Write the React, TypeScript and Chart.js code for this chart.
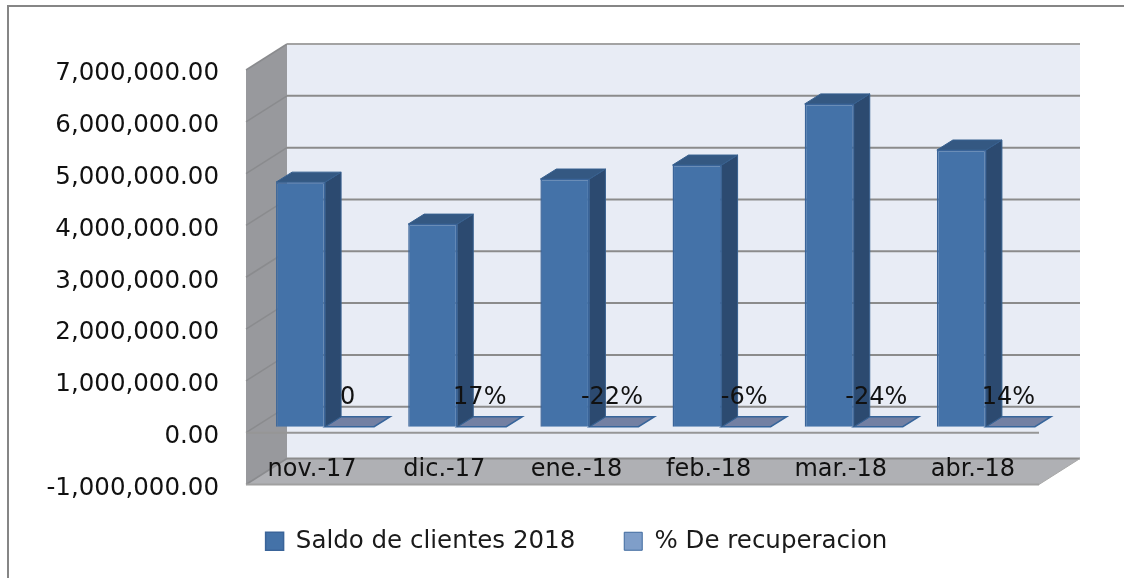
import React, { useEffect, useRef } from "react";
import { Chart, registerables } from "chart.js";

Chart.register(...registerables);

const categories = ["nov.-17", "dic.-17", "ene.-18", "feb.-18", "mar.-18", "abr.-18"];
const saldo = [4720000, 3910000, 4780000, 5050000, 6230000, 5340000];
const recuperacion = [0, 0.17, -0.22, -0.06, -0.24, 0.14];
const recuperacionLabels = ["0", "17%", "-22%", "-6%", "-24%", "14%"];
const seriesNames = ["Saldo de clientes 2018", "% De recuperacion"];

const FONT = "'DejaVu Sans'";
const DEPTH_X = 41;
const DEPTH_Y = -26;
const BAR_SHIFT_X = 13;
const BAR_SHIFT_Y = -6;
const BAR_DEPTH_X = 16;
const BAR_DEPTH_Y = -10;

function poly(ctx: CanvasRenderingContext2D, pts: number[][], fill: string, stroke?: string, lw = 1) {
  ctx.beginPath();
  pts.forEach((p, i) => (i ? ctx.lineTo(p[0], p[1]) : ctx.moveTo(p[0], p[1])));
  ctx.closePath();
  ctx.fillStyle = fill;
  ctx.fill();
  if (stroke) {
    ctx.strokeStyle = stroke;
    ctx.lineWidth = lw;
    ctx.stroke();
  }
}

function line(ctx: CanvasRenderingContext2D, x1: number, y1: number, x2: number, y2: number, c: string, w: number) {
  ctx.beginPath();
  ctx.moveTo(x1, y1);
  ctx.lineTo(x2, y2);
  ctx.strokeStyle = c;
  ctx.lineWidth = w;
  ctx.stroke();
}

const scene3d = {
  id: "scene3d",
  afterLayout(chart: any) {
    const lg = chart.legend;
    if (lg) {
      lg.top = 480;
      lg.bottom = lg.top + lg.height;
      lg.left += 57;
      lg.right += 57;
    }
  },
  beforeDraw(chart: any) {
    const { ctx, scales } = chart;
    const y = scales.y;
    const a = chart.chartArea;
    const L = a.left, R = a.right, T = y.getPixelForValue(7000000), B = y.getPixelForValue(-1000000);
    ctx.save();
    ctx.fillStyle = "#ffffff";
    ctx.fillRect(0, 0, chart.width, chart.height);
    line(ctx, 8, 6, 1124, 6, "#868686", 2);
    line(ctx, 8, 5, 8, 578, "#868686", 2);

    poly(ctx, [[L + DEPTH_X, T + DEPTH_Y], [R + DEPTH_X, T + DEPTH_Y], [R + DEPTH_X, B + DEPTH_Y], [L + DEPTH_X, B + DEPTH_Y]], "#e8ecf5");
    poly(ctx, [[L, T], [L + DEPTH_X, T + DEPTH_Y], [L + DEPTH_X, B + DEPTH_Y], [L, B]], "#98999d");
    poly(ctx, [[L, B], [L + DEPTH_X, B + DEPTH_Y], [R + DEPTH_X, B + DEPTH_Y], [R, B]], "#afb0b4");

    y.ticks.forEach((t: any) => {
      const py = y.getPixelForValue(t.value);
      line(ctx, L, py, L + DEPTH_X, py + DEPTH_Y, "#8a8b8e", 1.5);
      line(ctx, L + DEPTH_X, py + DEPTH_Y, R + DEPTH_X, py + DEPTH_Y, t.value === 7000000 ? "#a3a3a3" : "#8b8b8b", 2);
    });
    const zero = y.getPixelForValue(0);
    line(ctx, L, zero, R, zero, "#969696", 2);
    line(ctx, L, B, R, B, "#a0a0a0", 2);
    line(ctx, R, B, R + DEPTH_X, B + DEPTH_Y, "#a8a8a8", 1);
    ctx.restore();
  },
  beforeDatasetDraw(chart: any, args: any) {
    const { ctx } = chart;
    ctx.save();
    ctx.translate(BAR_SHIFT_X, BAR_SHIFT_Y);
    const meta = chart.getDatasetMeta(args.index);
    meta.data.forEach((bar: any) => {
      const l = bar.x - bar.width / 2;
      const r = bar.x + bar.width / 2;
      const top = Math.min(bar.y, bar.base);
      const base = Math.max(bar.y, bar.base);
      if (args.index === 0) {
        poly(ctx, [[r, top], [r + BAR_DEPTH_X, top + BAR_DEPTH_Y], [r + BAR_DEPTH_X, base + BAR_DEPTH_Y], [r, base]], "#2c4a70", "#37608f", 1);
        poly(ctx, [[l, top], [l + BAR_DEPTH_X, top + BAR_DEPTH_Y], [r + BAR_DEPTH_X, top + BAR_DEPTH_Y], [r, top]], "#345882", "#37608f", 1);
      } else {
        poly(ctx, [[l, base], [l + BAR_DEPTH_X, base + BAR_DEPTH_Y], [r + BAR_DEPTH_X, base + BAR_DEPTH_Y], [r, base]], "#7380a3", "#37659b", 1.5);
      }
    });
  },
  afterDatasetDraw(chart: any) {
    chart.ctx.restore();
  },
  afterDatasetsDraw(chart: any) {
    const { ctx } = chart;
    const meta = chart.getDatasetMeta(1);
    ctx.save();
    ctx.font = `24px ${FONT}`;
    ctx.fillStyle = "#111111";
    ctx.textAlign = "center";
    ctx.textBaseline = "middle";
    meta.data.forEach((bar: any, i: number) => {
      ctx.fillText(recuperacionLabels[i], bar.x + BAR_SHIFT_X - 2, bar.y + BAR_SHIFT_Y - 29);
    });
    ctx.restore();
  },
};

export default function App() {
  const ref = useRef<HTMLCanvasElement>(null);
  useEffect(() => {
    const chart = new Chart(ref.current as HTMLCanvasElement, {
      type: "bar",
      data: {
        labels: categories,
        datasets: [
          {
            label: seriesNames[0],
            data: saldo,
            backgroundColor: "#4472a8",
            borderColor: "#3a6499",
            borderWidth: 1.5,
            clip: false,
          },
          {
            label: seriesNames[1],
            data: recuperacion,
            backgroundColor: "#7f9ec9",
            borderColor: "#3f6a9f",
            borderWidth: 1,
            clip: false,
          },
        ],
      } as any,
      options: {
        animation: false,
        responsive: false,
        datasets: { bar: { categoryPercentage: 0.742, barPercentage: 1 } },
        layout: { padding: { left: 0, top: 70, right: 85, bottom: 10 } },
        plugins: {
          tooltip: { enabled: false },
          legend: {
            position: "bottom",
            labels: {
              font: { family: FONT, size: 24.5 },
              color: "#1a1a1a",
              boxWidth: 18,
              boxHeight: 18,
              padding: 49,
            },
          },
        },
        scales: {
          x: {
            grid: { display: false },
            border: { display: false },
            afterFit: (s: any) => {
              s.height = 0;
            },
            ticks: {
              mirror: true,
              padding: 0,
              autoSkip: false,
              maxRotation: 0,
              color: "#111111",
              font: { family: FONT, size: 24 },
            },
          },
          y: {
            min: -1000000,
            max: 7000000,
            grid: { display: false },
            border: { display: false },
            afterFit: (s: any) => {
              s.width = 246;
            },
            ticks: {
              stepSize: 1000000,
              padding: 19,
              labelOffset: 4,
              color: "#111111",
              font: { family: FONT, size: 24.5 },
              callback: (v: any) =>
                Number(v).toLocaleString("en-US", { minimumFractionDigits: 2, maximumFractionDigits: 2 }),
            },
          },
        },
      } as any,
      plugins: [scene3d],
    });
    return () => chart.destroy();
  }, []);
  return (
    <div style={{ position: "absolute", left: 0, top: 0, width: 1124, height: 578 }}>
      <canvas ref={ref} width={1124} height={578} style={{ display: "block" }} />
    </div>
  );
}
